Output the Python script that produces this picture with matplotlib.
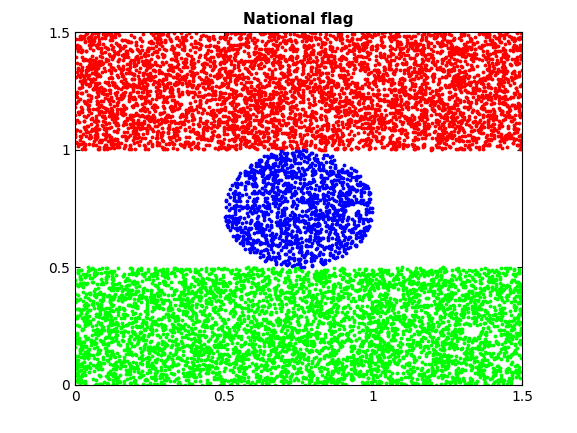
import numpy as np
import matplotlib
matplotlib.use("Agg")
import matplotlib.pyplot as plt

# flag layout
x_range = [0.0, 1.5]
red_band = [1.0, 1.5]
green_band = [0.0, 0.5]
circle_center = [0.75, 0.75]
circle_radius = 0.25
n_points = 15000
ticks = [0, 0.5, 1, 1.5]
tick_labels = ["0", "0.5", "1", "1.5"]

# Monte Carlo sample: the individual points cannot be read from the picture
rng = np.random.default_rng(0)
px = rng.uniform(x_range[0], x_range[1], n_points)
py = rng.uniform(x_range[0], x_range[1], n_points)

red = (py >= red_band[0]) & (py <= red_band[1])
green = (py >= green_band[0]) & (py <= green_band[1])
blue = (px - circle_center[0]) ** 2 + (py - circle_center[1]) ** 2 <= circle_radius ** 2

fig = plt.figure(figsize=(5.77, 4.33), dpi=100)
ax = fig.add_axes([75 / 577, 48 / 433, 447 / 577, 353 / 433])
ax.plot(px[red], py[red], ".", color="#ff0000", markersize=3.5)
ax.plot(px[green], py[green], ".", color="#00ff00", markersize=3.5)
ax.plot(px[blue], py[blue], ".", color="#0000ff", markersize=3.5)

ax.set_xlim(0, 1.5)
ax.set_ylim(0, 1.5)
ax.set_xticks(ticks)
ax.set_xticklabels(tick_labels)
ax.set_yticks(ticks)
ax.set_yticklabels(tick_labels)
ax.tick_params(direction="in", top=True, right=True, labelsize=10)
ax.set_title("National flag", fontweight="bold", fontsize=11)

fig.savefig("out.png", dpi=100)
